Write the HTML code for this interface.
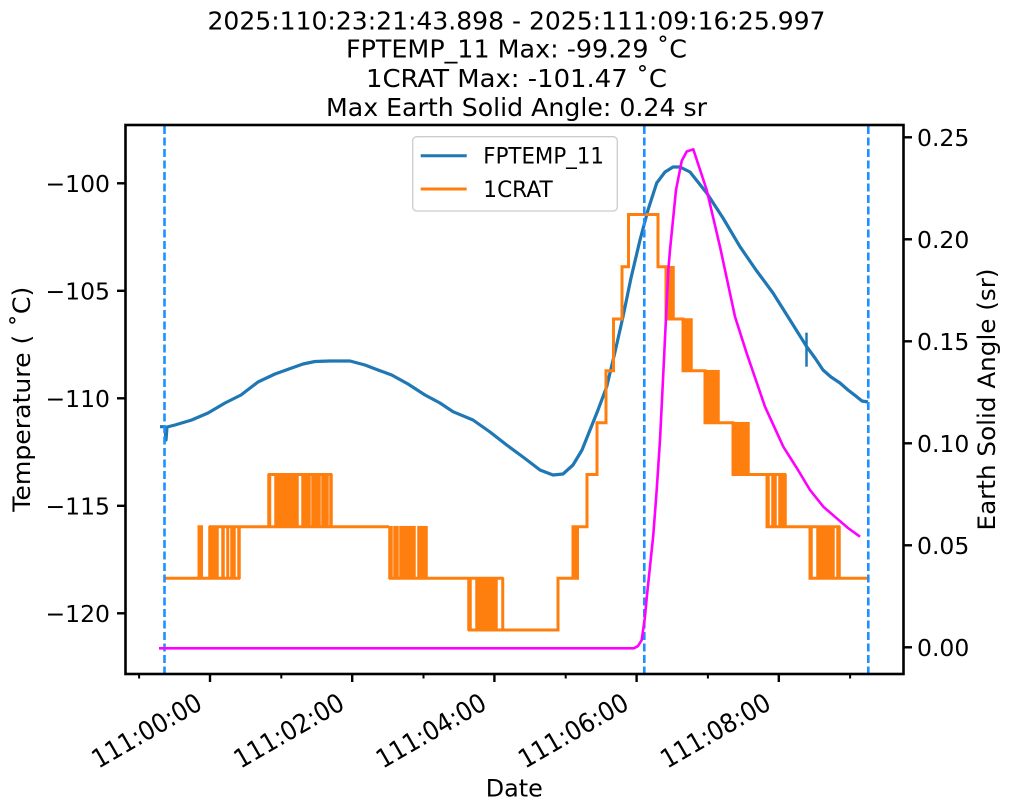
<!DOCTYPE html>
<html>
<head>
<meta charset="utf-8">
<style>
  html, body { margin: 0; padding: 0; background: #ffffff; }
  svg { display: block; }
  text { font-family: "DejaVu Sans", "Liberation Sans", sans-serif; fill: #000; }
</style>
</head>
<body>
<svg width="1011" height="811" viewBox="0 0 1011 811" xmlns="http://www.w3.org/2000/svg">
  <rect x="0" y="0" width="1011" height="811" fill="#ffffff"/>

  <!-- Title -->
  <text x="516.5" y="29.5" font-size="25" text-anchor="middle" textLength="618" lengthAdjust="spacingAndGlyphs">2025:110:23:21:43.898 - 2025:111:09:16:25.997</text>
  <text x="516.5" y="57.5" font-size="25" text-anchor="middle" textLength="341" lengthAdjust="spacingAndGlyphs">FPTEMP_11 Max: -99.29 ˚C</text>
  <text x="516.5" y="87" font-size="25" text-anchor="middle" textLength="301" lengthAdjust="spacingAndGlyphs">1CRAT Max: -101.47 ˚C</text>
  <text x="516.5" y="116" font-size="25" text-anchor="middle" textLength="381" lengthAdjust="spacingAndGlyphs">Max Earth Solid Angle: 0.24 sr</text>

  <!-- FPTEMP_11 (blue) -->
  <polyline fill="none" stroke="#1f77b4" stroke-width="3.2" stroke-linejoin="round"
    points="160,426.7 165,426.7 166,440 167,427 175,425 191.7,420 208,413 225,403 241,395 258,382 275,374 291.7,368 303,364 315,361.5 330,361 350,361 365,365 378,370 391.7,375 408,384 425,395 440,403 453,411.7 473,420 490,432 506.7,445 523,457 540,470 553,475 563,474 573,465 582,450 590,430 598,410 606.7,386.7 615,352 623,316.7 631,278 640,240 648,210 656.7,183 665,172 673,167 680,167 690,172 706.7,193 723,218 740,246.7 756,270 773,293 790,320 806.7,346.7 815,358 823,370 831,377 840,383 848,390 856.7,396.7 862,401 868,402"/>
  <line x1="806.5" y1="332.7" x2="806.5" y2="366.7" stroke="#1f77b4" stroke-width="2.5"/>

  <!-- 1CRAT (orange) -->
  <g stroke="#ff7f0e" stroke-width="3" fill="none" stroke-linejoin="miter">
    <path d="M165,578.3 H240"/>
    <path d="M199,578.3 V526.7 H201.5 V578.3"/>
    <path d="M209,526.7 H389"/>
    <path d="M268,474.5 H332"/>
    <path d="M389,578.3 H503.5"/>
    <path d="M468,630 H558 V578.3 H573 V526.7 H576 V578.3 H577.5 V526.7 H587 V474.5 H597 V422.7 H606 V370.7 H613.5 V319 H622 V266.7 H628.5 V214.5 H658 V266.7 H666 V319 H683 V370.7 H705 V422.7 H733 V474.5 H767 V526.7 H810 V578.3 H868"/>
    <path d="M767,474.5 H786"/>
    <path d="M810,526.7 H840"/>
  </g>
  <g fill="#ff7f0e" stroke="#ff7f0e" stroke-width="1.5">
    <rect x="209" y="526.7" width="9" height="51.6"/>
    <rect x="222" y="526.7" width="2" height="51.6"/>
    <rect x="227" y="526.7" width="1.5" height="51.6"/>
    <rect x="231" y="526.7" width="4" height="51.6"/>
    <rect x="238" y="526.7" width="2" height="51.6"/>
    <rect x="268" y="474.5" width="2.5" height="52.2"/>
    <rect x="275" y="474.5" width="23" height="52.2"/>
    <rect x="302" y="474.5" width="8" height="52.2"/>
    <rect x="312" y="474.5" width="8" height="52.2"/>
    <rect x="322" y="474.5" width="6" height="52.2"/>
    <rect x="330" y="474.5" width="2" height="52.2"/>
    <rect x="389" y="526.7" width="3" height="51.6"/>
    <rect x="394" y="526.7" width="4" height="51.6"/>
    <rect x="400" y="526.7" width="15" height="51.6"/>
    <rect x="418" y="526.7" width="9" height="51.6"/>
    <rect x="468" y="578.3" width="3" height="51.7"/>
    <rect x="476" y="578.3" width="21" height="51.7"/>
    <rect x="502" y="578.3" width="1.5" height="51.7"/>
    <rect x="666" y="266.7" width="8" height="52.3"/>
    <rect x="683" y="319" width="9" height="51.7"/>
    <rect x="705" y="370.7" width="14" height="52"/>
    <rect x="733" y="422.7" width="16" height="51.8"/>
    <rect x="767" y="474.5" width="2" height="52.2"/>
    <rect x="772" y="474.5" width="4" height="52.2"/>
    <rect x="779" y="474.5" width="7" height="52.2"/>
    <rect x="810" y="526.7" width="2" height="51.6"/>
    <rect x="817" y="526.7" width="17" height="51.6"/>
    <rect x="837" y="526.7" width="3" height="51.6"/>
  </g>

  <!-- Dashed vertical lines -->
  <g stroke="#1e90ff" stroke-width="2.6" stroke-dasharray="8 3.5">
    <line x1="164.5" y1="126" x2="164.5" y2="673"/>
    <line x1="644.3" y1="126" x2="644.3" y2="673"/>
    <line x1="868.3" y1="126" x2="868.3" y2="673"/>
  </g>

  <!-- Earth solid angle (magenta) -->
  <polyline fill="none" stroke="#ff00ff" stroke-width="2.6" stroke-linejoin="round"
    points="159,648.3 634,648.3 638,646 641.7,640 645,616.7 646.7,598 653.3,535 656.7,490 660,440 663.3,373.3 668.3,270 670,250 676,190 681.7,161 686.7,151.5 693.3,149.3 706.7,190 720,246.7 735,316.7 746.7,353.3 765,406.7 783.3,446.7 798,470 810,490 823.3,506.7 836.7,518.3 848,528 860,536.7"/>

  <!-- Legend -->
  <rect x="412.7" y="136.7" width="204.6" height="74.3" rx="4" ry="4" fill="#ffffff" fill-opacity="0.85" stroke="#cccccc" stroke-width="1.3"/>
  <line x1="420.7" y1="155.7" x2="466.7" y2="155.7" stroke="#1f77b4" stroke-width="3"/>
  <line x1="420.7" y1="189" x2="466.7" y2="189" stroke="#ff7f0e" stroke-width="3"/>
  <text x="483.3" y="163.5" font-size="22" textLength="120.7" lengthAdjust="spacingAndGlyphs">FPTEMP_11</text>
  <text x="483.3" y="197" font-size="22" textLength="69.4" lengthAdjust="spacingAndGlyphs">1CRAT</text>

  <!-- Axes frame -->
  <rect x="125.5" y="125" width="778" height="549" fill="none" stroke="#000" stroke-width="2.6"/>

  <!-- Left y ticks -->
  <g stroke="#000" stroke-width="2.4">
    <line x1="117" y1="183.3" x2="125.5" y2="183.3"/>
    <line x1="117" y1="290.8" x2="125.5" y2="290.8"/>
    <line x1="117" y1="398.3" x2="125.5" y2="398.3"/>
    <line x1="117" y1="505.8" x2="125.5" y2="505.8"/>
    <line x1="117" y1="613.3" x2="125.5" y2="613.3"/>
  </g>
  <g font-size="23.5" text-anchor="end">
    <text x="110" y="191.8">−100</text>
    <text x="110" y="299.3">−105</text>
    <text x="110" y="406.8">−110</text>
    <text x="110" y="514.3">−115</text>
    <text x="110" y="621.8">−120</text>
  </g>

  <!-- Right y ticks -->
  <g stroke="#000" stroke-width="2.4">
    <line x1="903.5" y1="137.3" x2="912" y2="137.3"/>
    <line x1="903.5" y1="239.3" x2="912" y2="239.3"/>
    <line x1="903.5" y1="341.3" x2="912" y2="341.3"/>
    <line x1="903.5" y1="443.3" x2="912" y2="443.3"/>
    <line x1="903.5" y1="545.3" x2="912" y2="545.3"/>
    <line x1="903.5" y1="647.3" x2="912" y2="647.3"/>
  </g>
  <g font-size="23.5">
    <text x="917" y="145.8">0.25</text>
    <text x="917" y="247.8">0.20</text>
    <text x="917" y="349.8">0.15</text>
    <text x="917" y="451.8">0.10</text>
    <text x="917" y="553.8">0.05</text>
    <text x="917" y="655.8">0.00</text>
  </g>

  <!-- X ticks -->
  <g stroke="#000" stroke-width="2.4">
    <line x1="210" y1="674" x2="210" y2="682"/>
    <line x1="352.2" y1="674" x2="352.2" y2="682"/>
    <line x1="494.4" y1="674" x2="494.4" y2="682"/>
    <line x1="636.6" y1="674" x2="636.6" y2="682"/>
    <line x1="778.8" y1="674" x2="778.8" y2="682"/>
  </g>
  <g stroke="#000" stroke-width="2">
    <line x1="139.1" y1="674" x2="139.1" y2="678.5"/>
    <line x1="281.3" y1="674" x2="281.3" y2="678.5"/>
    <line x1="423.5" y1="674" x2="423.5" y2="678.5"/>
    <line x1="565.7" y1="674" x2="565.7" y2="678.5"/>
    <line x1="707.9" y1="674" x2="707.9" y2="678.5"/>
    <line x1="850.1" y1="674" x2="850.1" y2="678.5"/>
  </g>
  <g font-size="26" text-anchor="end">
    <text transform="translate(204,708) rotate(-30)" textLength="122" lengthAdjust="spacingAndGlyphs">111:00:00</text>
    <text transform="translate(346.2,708) rotate(-30)" textLength="122" lengthAdjust="spacingAndGlyphs">111:02:00</text>
    <text transform="translate(488.4,708) rotate(-30)" textLength="122" lengthAdjust="spacingAndGlyphs">111:04:00</text>
    <text transform="translate(630.6,708) rotate(-30)" textLength="122" lengthAdjust="spacingAndGlyphs">111:06:00</text>
    <text transform="translate(772.8,708) rotate(-30)" textLength="122" lengthAdjust="spacingAndGlyphs">111:08:00</text>
  </g>

  <!-- Axis labels -->
  <text x="514.3" y="796.7" font-size="24" text-anchor="middle" textLength="57" lengthAdjust="spacingAndGlyphs">Date</text>
  <text transform="translate(30,399.2) rotate(-90)" font-size="24" text-anchor="middle" textLength="225" lengthAdjust="spacingAndGlyphs">Temperature ( ˚C)</text>
  <text transform="translate(995,399.5) rotate(-90)" font-size="24" text-anchor="middle" textLength="262" lengthAdjust="spacingAndGlyphs">Earth Solid Angle (sr)</text>
</svg>
</body>
</html>
